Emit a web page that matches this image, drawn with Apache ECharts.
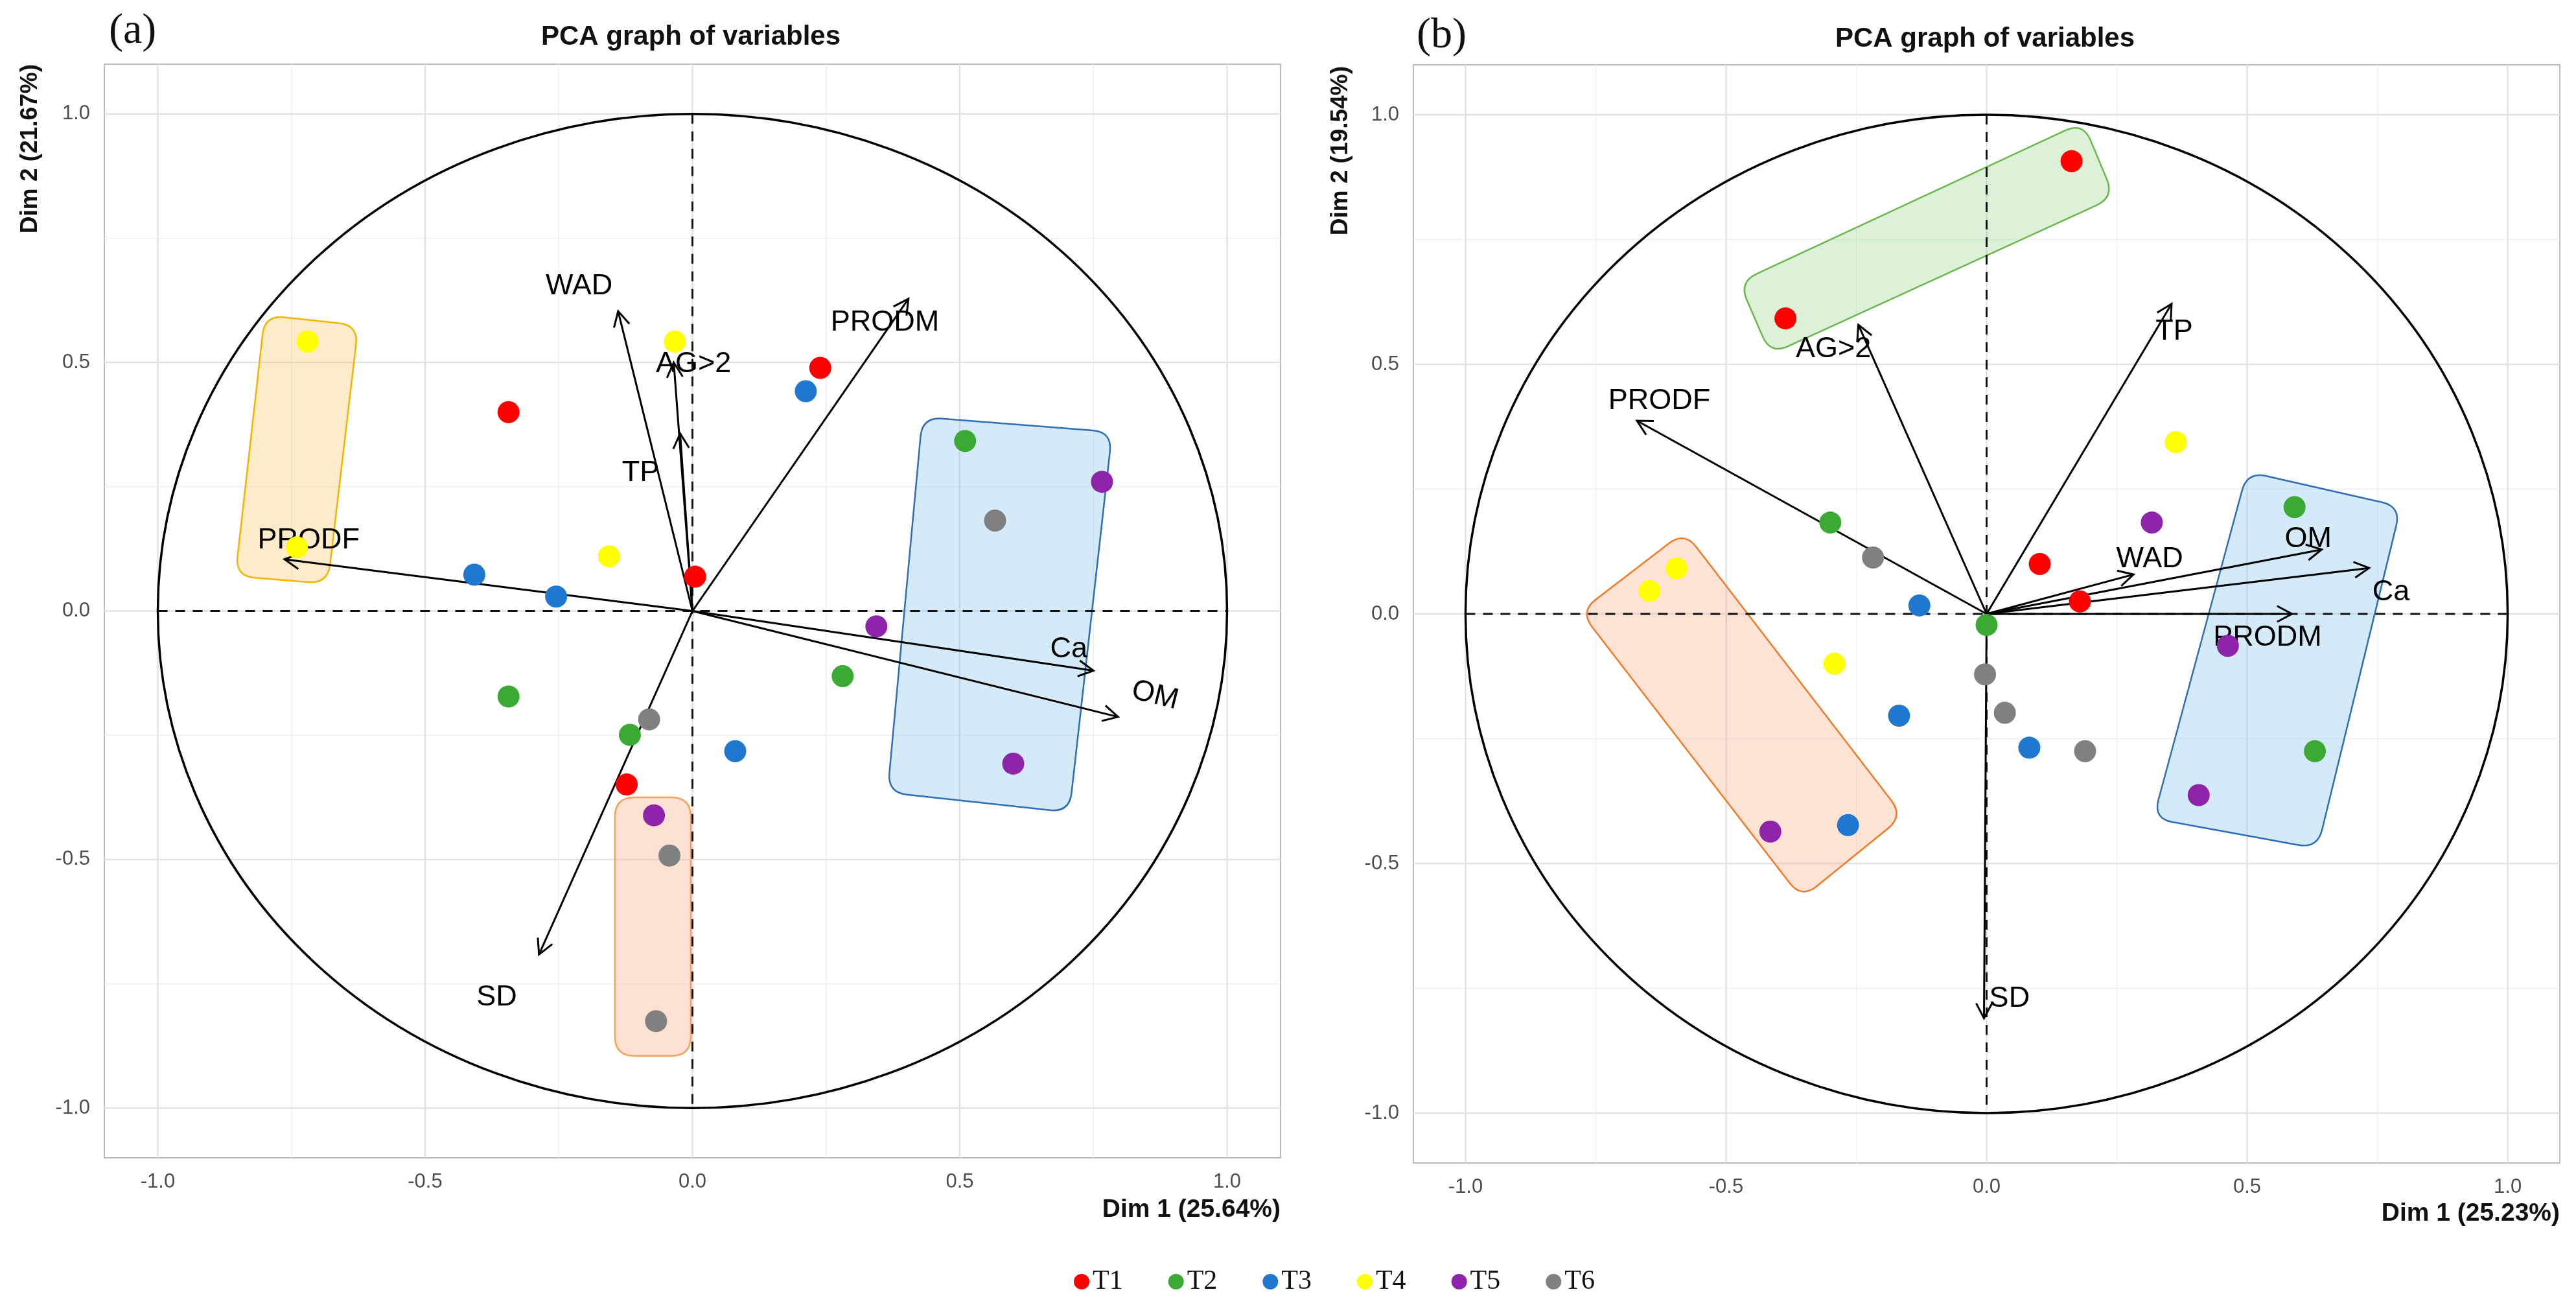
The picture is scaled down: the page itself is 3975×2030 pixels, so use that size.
<!DOCTYPE html>
<html><head><meta charset="utf-8">
<script src="https://cdn.jsdelivr.net/npm/echarts@6/dist/echarts.min.js"></script>
<style>html,body{margin:0;padding:0;background:#fff}#c{width:3975px;height:2030px}</style>
</head><body><div id="c"></div>
<script>
// ---------- DATA ----------
const treatments = ['T1','T2','T3','T4','T5','T6'];
const majorTicks = [-1, -0.5, 0, 0.5, 1];
const minorTicks = [-0.75, -0.25, 0.25, 0.75];
const circleRadius = 1;

// Panel (a): individuals (Dim1, Dim2)
const a_T1 = [[0.239,0.489],[-0.344,0.400],[0.005,0.069],[-0.123,-0.349]];
const a_T2 = [[0.510,0.342],[0.281,-0.131],[-0.344,-0.172],[-0.117,-0.249]];
const a_T3 = [[0.212,0.442],[-0.408,0.073],[-0.255,0.029],[0.080,-0.282]];
const a_T4 = [[-0.720,0.542],[-0.033,0.542],[-0.740,0.128],[-0.156,0.110]];
const a_T5 = [[0.766,0.260],[0.344,-0.031],[0.600,-0.307],[-0.072,-0.411]];
const a_T6 = [[0.566,0.182],[-0.081,-0.218],[-0.043,-0.492],[-0.068,-0.825]];

// Panel (a): variables (arrow tips) and label anchors
const a_varNames = ['PRODM','WAD','AG>2','TP','PRODF','Ca','OM','SD'];
const a_varX = [0.404,-0.139,-0.035,-0.023,-0.763,0.750,0.796,-0.287];
const a_varY = [0.628,0.603,0.500,0.357,0.104,-0.120,-0.213,-0.691];
const a_labX = [0.360,-0.212,0.002,-0.097,-0.718,0.704,0.865,-0.366];
const a_labY = [0.580,0.653,0.497,0.277,0.142,-0.077,-0.170,-0.778];
const a_labRot = [0,0,0,0,0,0,-14,0];

// Panel (a): highlighted groups (corner points)
const a_boxYellow = [[-0.800,0.595],[-0.625,0.575],[-0.682,0.055],[-0.855,0.070]];
const a_boxBlue   = [[0.430,0.390],[0.785,0.360],[0.705,-0.405],[0.365,-0.365]];
const a_boxSalmon = [[-0.145,-0.375],[-0.003,-0.375],[-0.003,-0.895],[-0.145,-0.895]];

// Panel (b): individuals
const b_T1 = [[0.163,0.907],[-0.386,0.592],[0.102,0.100],[0.179,0.025]];
const b_T2 = [[0.591,0.214],[-0.300,0.183],[0.000,-0.022],[0.630,-0.275]];
const b_T3 = [[-0.129,0.017],[-0.168,-0.204],[0.082,-0.268],[-0.266,-0.423]];
const b_T4 = [[0.363,0.344],[-0.595,0.091],[-0.647,0.046],[-0.292,-0.100]];
const b_T5 = [[0.317,0.183],[0.463,-0.064],[0.407,-0.363],[-0.415,-0.436]];
const b_T6 = [[-0.218,0.113],[-0.003,-0.121],[0.035,-0.198],[0.189,-0.275]];

// Panel (b): variables
const b_varNames = ['AG>2','TP','PRODF','WAD','OM','Ca','PRODM','SD'];
const b_varX = [-0.246,0.355,-0.671,0.282,0.643,0.734,0.586,-0.005];
const b_varY = [0.579,0.621,0.387,0.079,0.129,0.092,0.000,-0.810];
const b_labX = [-0.294,0.360,-0.628,0.313,0.617,0.776,0.539,0.044];
const b_labY = [0.531,0.565,0.427,0.109,0.150,0.044,-0.047,-0.771];
const b_labRot = [0,0,0,0,0,0,0,0];

// Panel (b): highlighted groups
const b_boxGreen  = [[-0.475,0.665],[0.185,0.985],[0.245,0.835],[-0.415,0.520]];
const b_boxOrange = [[-0.580,0.165],[-0.160,-0.405],[-0.355,-0.570],[-0.780,0.005]];
const b_boxBlue   = [[0.500,0.285],[0.795,0.215],[0.635,-0.470],[0.320,-0.410]];

// ---------- STYLES ----------
const treatmentColors = ['#ff0000','#3aaa35','#1f77d0','#ffff00','#8e24aa','#808080'];
const boxBlueStyle   = {fill:'rgba(135,196,236,0.35)', stroke:'#2f6db5'};
const boxYellowStyle = {fill:'rgba(249,198,100,0.35)', stroke:'#f5b300'};
const boxSalmonStyle = {fill:'rgba(249,172,132,0.35)', stroke:'#f5a25d'};
const boxGreenStyle  = {fill:'rgba(155,215,144,0.35)', stroke:'#6ab74e'};
const boxOrangeStyle = {fill:'rgba(249,175,138,0.35)', stroke:'#f27a27'};

const SANS = 'Liberation Sans, Arial, sans-serif';
const SERIF = 'Liberation Serif, Times New Roman, serif';

// ---------- SERIES BUILDERS ----------
function gridLines(gi, ticks, color, width) {
  return {
    type:'custom', xAxisIndex:gi, yAxisIndex:gi, z:1, silent:true,
    data: ticks.map(v => [v, v]),
    renderItem(params, api) {
      const cs = params.coordSys;
      const p = api.coord([api.value(0), api.value(1)]);
      return {type:'group', children:[
        {type:'line', shape:{x1:p[0], y1:cs.y, x2:p[0], y2:cs.y+cs.height}, style:{stroke:color, lineWidth:width}},
        {type:'line', shape:{x1:cs.x, y1:p[1], x2:cs.x+cs.width, y2:p[1]}, style:{stroke:color, lineWidth:width}}
      ]};
    }
  };
}

function circleSeries(gi) {
  return {
    type:'custom', xAxisIndex:gi, yAxisIndex:gi, z:3, silent:true,
    data: [[0, 0, circleRadius]],
    renderItem(params, api) {
      const c = api.coord([api.value(0), api.value(1)]);
      const r = api.value(2);
      const sz = api.size([r, r]);
      const rx = sz[0], ry = sz[1];
      const L = api.coord([-r,0]), R = api.coord([r,0]), T = api.coord([0,r]), B = api.coord([0,-r]);
      const d = `M ${c[0]-rx} ${c[1]} A ${rx} ${ry} 0 1 0 ${c[0]+rx} ${c[1]} A ${rx} ${ry} 0 1 0 ${c[0]-rx} ${c[1]} Z`;
      return {type:'group', children:[
        {type:'line', shape:{x1:L[0],y1:L[1],x2:R[0],y2:R[1]}, style:{stroke:'#111', lineWidth:3, lineDash:[15,12]}},
        {type:'line', shape:{x1:T[0],y1:T[1],x2:B[0],y2:B[1]}, style:{stroke:'#111', lineWidth:3, lineDash:[15,12]}},
        {type:'path', shape:{pathData:d}, style:{stroke:'#000', lineWidth:3.5, fill:'none'}}
      ]};
    }
  };
}

function boxSeries(gi, boxes, styles) {
  return {
    type:'custom', xAxisIndex:gi, yAxisIndex:gi, z:2, silent:true,
    data: boxes.map(b => b.flat()),
    renderItem(params, api) {
      const pts = [];
      for (let k = 0; k < 4; k++) pts.push(api.coord([api.value(2*k), api.value(2*k+1)]));
      const rad = 30, n = pts.length;
      let d = '';
      for (let k = 0; k < n; k++) {
        const P = pts[k], Pp = pts[(k-1+n)%n], Pn = pts[(k+1)%n];
        const l1 = Math.hypot(Pp[0]-P[0], Pp[1]-P[1]), l2 = Math.hypot(Pn[0]-P[0], Pn[1]-P[1]);
        const r1 = Math.min(rad, l1/2), r2 = Math.min(rad, l2/2);
        const a = [P[0]+(Pp[0]-P[0])*r1/l1, P[1]+(Pp[1]-P[1])*r1/l1];
        const b = [P[0]+(Pn[0]-P[0])*r2/l2, P[1]+(Pn[1]-P[1])*r2/l2];
        d += (k === 0 ? 'M ' : 'L ') + a[0] + ' ' + a[1] + ' Q ' + P[0] + ' ' + P[1] + ' ' + b[0] + ' ' + b[1] + ' ';
      }
      d += 'Z';
      const st = styles[params.dataIndex];
      return {type:'path', shape:{pathData:d}, style:{fill:st.fill, stroke:st.stroke, lineWidth:2.5}};
    }
  };
}

function arrowSeries(gi, names, xs, ys, lx, ly, rot) {
  return {
    type:'custom', xAxisIndex:gi, yAxisIndex:gi, z:4, silent:true,
    data: names.map((n,i) => [xs[i], ys[i], lx[i], ly[i]]),
    renderItem(params, api) {
      const i = params.dataIndex;
      const o = api.coord([0,0]);
      const t = api.coord([api.value(0), api.value(1)]);
      const l = api.coord([api.value(2), api.value(3)]);
      const dx = t[0]-o[0], dy = t[1]-o[1], len = Math.hypot(dx,dy);
      const ux = dx/len, uy = dy/len, H = 26, an = 28*Math.PI/180;
      const ca = Math.cos(an), sa = Math.sin(an);
      const h1 = [t[0]-H*(ux*ca - uy*sa), t[1]-H*(uy*ca + ux*sa)];
      const h2 = [t[0]-H*(ux*ca + uy*sa), t[1]-H*(uy*ca - ux*sa)];
      return {type:'group', children:[
        {type:'line', shape:{x1:o[0],y1:o[1],x2:t[0],y2:t[1]}, style:{stroke:'#000', lineWidth:3}},
        {type:'polyline', shape:{points:[h1,t,h2]}, style:{stroke:'#000', lineWidth:3, fill:'none'}},
        {type:'text', x:l[0], y:l[1], rotation:rot[i]*Math.PI/180,
          style:{text:names[i], fontFamily:SANS, fontSize:45, fill:'#000', align:'center', verticalAlign:'middle'}}
      ]};
    }
  };
}

function scatterSeries(gi, sets) {
  return sets.map((d, k) => ({
    type:'scatter', name:treatments[k], xAxisIndex:gi, yAxisIndex:gi, z:5,
    data:d, symbol:'circle', symbolSize:34,
    itemStyle:{color:treatmentColors[k], opacity:1}
  }));
}

function makeAxis(gi) {
  return {
    gridIndex:gi, type:'value', min:-1.1, max:1.1,
    axisLine:{show:false},
    axisTick:{show:true, customValues:majorTicks, length:12, lineStyle:{color:'#8a8a8a', width:2}},
    axisLabel:{customValues:majorTicks, formatter:v => v.toFixed(1), fontFamily:SANS, fontSize:31, color:'#4d4d4d', margin:22},
    splitLine:{show:false}
  };
}

const option = {
  animation:false,
  backgroundColor:'#fff',
  grid:[
    {left:161, top:99, width:1815, height:1687, show:true, borderColor:'#b9b9c2', borderWidth:2, backgroundColor:'#fff', containLabel:false, outerBoundsMode:'none'},
    {left:2181, top:100, width:1769, height:1694, show:true, borderColor:'#b9b9c2', borderWidth:2, backgroundColor:'#fff', containLabel:false, outerBoundsMode:'none'}
  ],
  xAxis:[makeAxis(0), makeAxis(1)],
  yAxis:[makeAxis(0), makeAxis(1)],
  legend:{
    data:treatments, left:1652, top:1951, itemWidth:24, itemHeight:24, itemGap:70, icon:'circle',
    textStyle:{fontFamily:SERIF, fontSize:42, color:'#111'}
  },
  graphic:[
    {type:'text', x:168, y:49, style:{text:'(a)', fontFamily:SERIF, fontSize:66, fill:'#111', align:'left', verticalAlign:'middle'}},
    {type:'text', x:2186, y:56, style:{text:'(b)', fontFamily:SERIF, fontSize:66, fill:'#111', align:'left', verticalAlign:'middle'}},
    {type:'text', x:1066, y:57, style:{text:'PCA graph of variables', fontFamily:SANS, fontWeight:'bold', fontSize:42, fill:'#111', align:'center', verticalAlign:'middle'}},
    {type:'text', x:3063, y:60, style:{text:'PCA graph of variables', fontFamily:SANS, fontWeight:'bold', fontSize:42, fill:'#111', align:'center', verticalAlign:'middle'}},
    {type:'text', x:1976, y:1866, style:{text:'Dim 1 (25.64%)', fontFamily:SANS, fontWeight:'bold', fontSize:39, fill:'#111', align:'right', verticalAlign:'middle'}},
    {type:'text', x:3950, y:1872, style:{text:'Dim 1 (25.23%)', fontFamily:SANS, fontWeight:'bold', fontSize:39, fill:'#111', align:'right', verticalAlign:'middle'}},
    {type:'text', x:47, y:99, rotation:Math.PI/2, style:{text:'Dim 2 (21.67%)', fontFamily:SANS, fontWeight:'bold', fontSize:37, fill:'#111', align:'right', verticalAlign:'middle'}},
    {type:'text', x:2069, y:102, rotation:Math.PI/2, style:{text:'Dim 2 (19.54%)', fontFamily:SANS, fontWeight:'bold', fontSize:37, fill:'#111', align:'right', verticalAlign:'middle'}}
  ],
  series:[
    gridLines(0, minorTicks, '#f0f0f3', 1.5),
    gridLines(0, majorTicks, '#e2e2e7', 2.5),
    gridLines(1, minorTicks, '#f0f0f3', 1.5),
    gridLines(1, majorTicks, '#e2e2e7', 2.5),
    boxSeries(0, [a_boxYellow, a_boxBlue, a_boxSalmon], [boxYellowStyle, boxBlueStyle, boxSalmonStyle]),
    boxSeries(1, [b_boxGreen, b_boxOrange, b_boxBlue], [boxGreenStyle, boxOrangeStyle, boxBlueStyle]),
    circleSeries(0),
    circleSeries(1),
    arrowSeries(0, a_varNames, a_varX, a_varY, a_labX, a_labY, a_labRot),
    arrowSeries(1, b_varNames, b_varX, b_varY, b_labX, b_labY, b_labRot),
    ...scatterSeries(0, [a_T1,a_T2,a_T3,a_T4,a_T5,a_T6]),
    ...scatterSeries(1, [b_T1,b_T2,b_T3,b_T4,b_T5,b_T6])
  ]
};
const chart = echarts.init(document.getElementById('c'), null, {renderer:'canvas'});
chart.setOption(option);
</script></body></html>
